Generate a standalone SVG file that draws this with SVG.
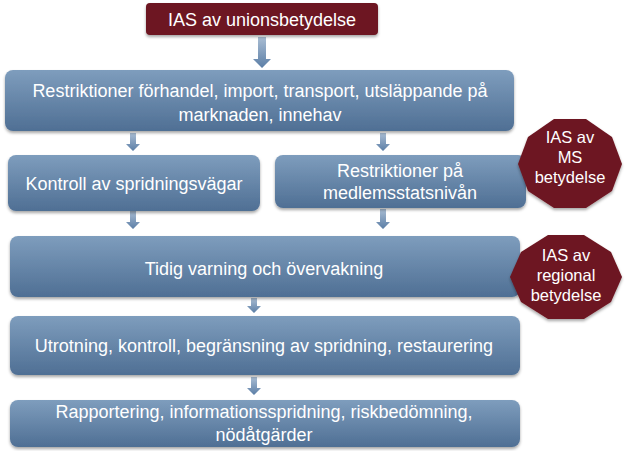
<svg xmlns="http://www.w3.org/2000/svg" width="627" height="451" viewBox="0 0 627 451">
<defs>
<linearGradient id="bg" x1="0" y1="0" x2="0" y2="1">
<stop offset="0" stop-color="#7e9dbd"/>
<stop offset="1" stop-color="#4f6f94"/>
</linearGradient>
<linearGradient id="ag" x1="0" y1="0" x2="0" y2="1">
<stop offset="0" stop-color="#a9bdd3"/>
<stop offset="1" stop-color="#5b7ea6"/>
</linearGradient>
<filter id="sh" x="-10%" y="-10%" width="120%" height="130%">
<feDropShadow dx="0" dy="2" stdDeviation="1.5" flood-color="#000" flood-opacity="0.35"/>
</filter>
</defs>
<style>
.box{fill:url(#bg);filter:url(#sh)}
.red{fill:#6d1520;filter:url(#sh)}
.t{font-family:"Liberation Sans",Arial,sans-serif;fill:#fff;font-size:18px;text-anchor:middle}
.o{font-family:"Liberation Sans",Arial,sans-serif;fill:#fff;font-size:16.5px;text-anchor:middle}
.arr{fill:url(#ag)}
</style>
<rect width="627" height="451" fill="#fff"/>
<g id="connectors">
<path class="arr" d="M258,37 h8 v22 h5 l-9,9 l-9,-9 h5 z"/>
<path class="arr" d="M130,133 h6 v11 h4 l-7,7 l-7,-7 h4 z"/>
<path class="arr" d="M380,133 h6 v11 h4 l-7,7 l-7,-7 h4 z"/>
<path class="arr" d="M130,211 h6 v11 h4 l-7,7 l-7,-7 h4 z"/>
<path class="arr" d="M380,209 h6 v13 h4 l-7,7 l-7,-7 h4 z"/>
<path class="arr" d="M251,298 h6 v8 h4 l-7,7 l-7,-7 h4 z"/>
<path class="arr" d="M251,377 h6 v11 h4 l-7,7 l-7,-7 h4 z"/>
</g>
<g id="n0">
<rect class="red" x="146" y="3" width="232" height="32" rx="4"/>
<text class="t" x="262" y="26">IAS av unionsbetydelse</text>
</g>
<g id="n1">
<rect class="box" x="5" y="70" width="509" height="61" rx="8"/>
<text class="t" x="260" y="97">Restriktioner förhandel, import, transport, utsläppande på</text>
<text class="t" x="260" y="121">marknaden, innehav</text>
</g>
<g id="n2">
<rect class="box" x="8" y="155" width="252" height="56" rx="8"/>
<text class="t" x="134" y="190">Kontroll av spridningsvägar</text>
</g>
<g id="n3">
<rect class="box" x="275" y="155" width="251" height="53" rx="8"/>
<text class="t" x="400" y="177">Restriktioner på</text>
<text class="t" x="400" y="199">medlemsstatsnivån</text>
</g>
<g id="n4">
<polygon class="red" points="622,164 612,191 586,208 554,208 528,191 518,164 528,137 554,119 586,119 612,137"/>
<text class="o" x="570" y="143">IAS av</text>
<text class="o" x="570" y="163">MS</text>
<text class="o" x="570" y="183">betydelse</text>
</g>
<g id="n5">
<rect class="box" x="10" y="236" width="510" height="61" rx="8"/>
<text class="t" x="264" y="275">Tidig varning och övervakning</text>
</g>
<g id="n6">
<polygon class="red" points="622,277 611,302 584,319 548,319 521,302 510,277 521,252 548,235 584,235 611,252"/>
<text class="o" x="566" y="261">IAS av</text>
<text class="o" x="566" y="281">regional</text>
<text class="o" x="566" y="301">betydelse</text>
</g>
<g id="n7">
<rect class="box" x="10" y="316" width="510" height="59" rx="8"/>
<text class="t" x="264" y="352">Utrotning, kontroll, begränsning av spridning, restaurering</text>
</g>
<g id="n8">
<rect class="box" x="10" y="400" width="510" height="47" rx="8"/>
<text class="t" x="264" y="418">Rapportering, informationsspridning, riskbedömning,</text>
<text class="t" x="264" y="441">nödåtgärder</text>
</g>
</svg>
